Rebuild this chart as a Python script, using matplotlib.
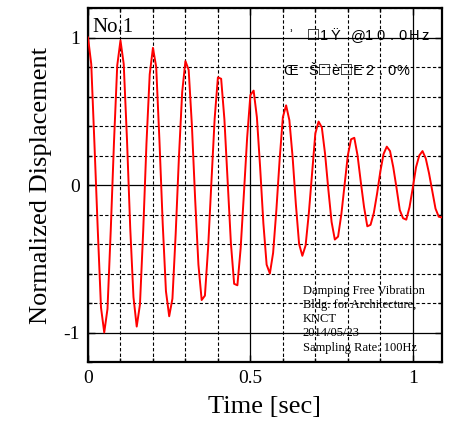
import numpy as np
import matplotlib
matplotlib.use("Agg")
import matplotlib.pyplot as plt
from matplotlib.ticker import MultipleLocator, FixedLocator

plt.rcParams['font.family'] = ['Liberation Serif', 'DejaVu Serif']
plt.rcParams['axes.unicode_minus'] = False

sampling_rate = 100
disp = [
    1.00, 0.82, 0.27, -0.30, -0.83, -1.00, -0.84, -0.31, 0.29, 0.81,
    0.98, 0.82, 0.31, -0.29, -0.76, -0.96, -0.81, -0.31, 0.28, 0.75,
    0.93, 0.80, 0.30, -0.26, -0.72, -0.89, -0.77, -0.33, 0.19, 0.63,
    0.84, 0.78, 0.40, -0.10, -0.54, -0.78, -0.75, -0.42, 0.02, 0.45,
    0.73, 0.72, 0.445, 0.025, -0.395, -0.67, -0.68, -0.43, -0.06, 0.32,
    0.61, 0.64, 0.46, 0.12, -0.26, -0.54, -0.60, -0.46, -0.17, 0.17,
    0.46, 0.54, 0.44, 0.19, -0.13, -0.40, -0.48, -0.41, -0.19, 0.08,
    0.35, 0.43, 0.39, 0.21, -0.03, -0.25, -0.37, -0.35, -0.20, 0.00,
    0.20, 0.31, 0.32, 0.20, 0.02, -0.15, -0.28, -0.27, -0.19, -0.06,
    0.09, 0.21, 0.26, 0.23, 0.12, -0.02, -0.17, -0.225, -0.235, -0.15,
    -0.02, 0.12, 0.20, 0.23, 0.18, 0.08, -0.04, -0.16, -0.215, -0.22,
]
time = np.arange(len(disp)) / sampling_rate

x_major = [0, 0.5, 1]
x_labels = ['0', '0.5', '1']
y_major = [-1, 0, 1]
y_labels = ['-1', '0', '1']

info_lines = [
    'Damping Free Vibration',
    'Bldg. for Architecture,',
    'KNCT',
    '2014/05/23',
    'Sampling Rate: 100Hz',
]
# garbled header lines, one glyph per slot
head1 = ['ʾ', ' ', '□', '1', 'Ÿ', ' ', '@', '1', '0', '.', '0', 'H', 'z']
head2 = ['Œ', ' ', 'Š', '□', 'è', '□', 'E', '2', '.', '0', '%']

fig = plt.figure(figsize=(4.51, 4.21), dpi=100)
ax = fig.add_axes([88 / 451, 1 - 362 / 421, 354 / 451, 354 / 421])

ax.plot(time, disp, color='red', lw=1.4, zorder=3)

ax.set_xlim(0, 1.09)
ax.set_ylim(-1.2, 1.2)
ax.xaxis.set_major_locator(FixedLocator(x_major))
ax.set_xticklabels(x_labels)
ax.xaxis.set_minor_locator(MultipleLocator(0.1))
ax.yaxis.set_major_locator(FixedLocator(y_major))
ax.set_yticklabels(y_labels)
ax.yaxis.set_minor_locator(MultipleLocator(0.2))

ax.grid(which='major', color='black', lw=0.9, ls='-')
ax.grid(which='minor', color='black', lw=0.8, ls=(0, (3, 2)))
ax.tick_params(which='both', direction='in', top=True, right=True,
               labelsize=14, width=1)
ax.tick_params(which='major', length=5, pad=6)
ax.tick_params(which='minor', length=3)
for s in ax.spines.values():
    s.set_linewidth(1.6)

ax.set_xlabel('Time [sec]', fontsize=19, labelpad=6)
ax.set_ylabel('Normalized Displacement', fontsize=19, labelpad=8)

ax.text(0.015, 1.04, 'No.1', fontsize=15, va='baseline', ha='left')

pitch = 0.0345
for i, ch in enumerate(head1):
    ax.text(0.607 + (i + 0.5) * pitch, 0.985, ch,
            fontsize=13 if ch == '□' else 10.5,
            family=['Liberation Sans', 'DejaVu Sans'],
            ha='center', va='baseline')
for i, ch in enumerate(head2):
    ax.text(0.607 + (i + 0.5) * pitch, 0.747, ch,
            fontsize=13 if ch == '□' else 10.5,
            family=['Liberation Sans', 'DejaVu Sans'],
            ha='center', va='baseline')

for i, line in enumerate(info_lines):
    ax.text(0.661, -0.736 - i * 0.097, line, fontsize=9,
            ha='left', va='baseline')

fig.savefig('out.png', dpi=100)
